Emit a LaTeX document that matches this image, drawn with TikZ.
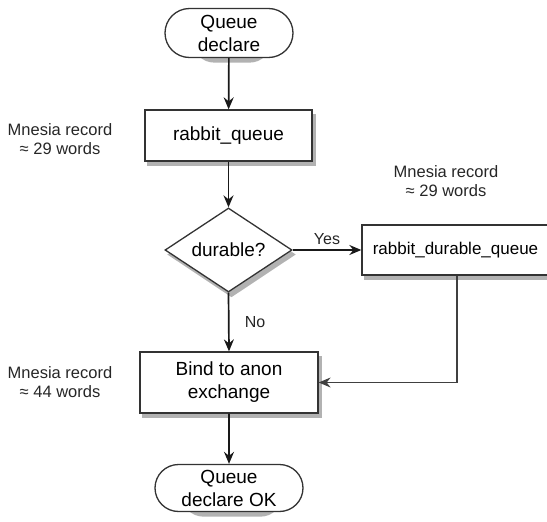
\documentclass[tikz,border=0pt]{standalone}
\usepackage{fontspec}
\setmainfont{Liberation Sans}
\usetikzlibrary{shapes.geometric,shapes.misc,arrows.meta,backgrounds}
\tikzset{
  boxst/.style={draw=black!80,line width=1.3pt,fill=white,font=\fontsize{19}{23}\selectfont,align=center,inner sep=0pt},
  termst/.style={boxst,rounded rectangle},
  procst/.style={boxst,rectangle},
  decst/.style={boxst,diamond,shape aspect=1.51},
  sidest/.style={font=\fontsize{16.5}{19}\selectfont,align=center,text=black!85},
  lblst/.style={font=\fontsize{16}{18}\selectfont,text=black!85},
  conn/.style={line width=1.7pt,draw=black!90,-{Stealth[length=12pt,width=10pt,inset=4pt]}},
  thinconn/.style={line width=1.1pt,draw=black!75,-{Stealth[length=12pt,width=10pt,inset=4pt]}},
  shadowfill/.style={fill=gray!60}
}
\begin{document}
\begin{tikzpicture}[x=1pt,y=-1pt]
\useasboundingbox (0,0) rectangle (547,522);
\node[termst,minimum width=128pt,minimum height=49pt] (start) at (229,33) {Queue\\declare};
\node[procst,minimum width=167pt,minimum height=51pt] (rq) at (228.5,135.5) {rabbit\_queue};
\node[decst,minimum width=127pt,minimum height=84pt] (dur) at (228.5,250) {durable?};
\node[procst,minimum width=187pt,minimum height=50pt,font=\fontsize{17}{20}\selectfont] (rdq) at (455.5,250) {rabbit\_durable\_queue};
\node[procst,minimum width=178pt,minimum height=61pt] (bind) at (229,382.5) {Bind to anon\\exchange};
\node[termst,minimum width=148pt,minimum height=47pt] (ok) at (229,488) {Queue\\declare OK};
\begin{scope}[on background layer]
  \foreach \n in {rq,rdq,bind}{
    \fill[shadowfill] ([shift={(3pt,-4.5pt)}]\n.south west) rectangle ([shift={(3pt,-4.5pt)}]\n.north east);
  }
  \fill[shadowfill] ([shift={(3pt,-4.5pt)}]dur.north) -- ([shift={(3pt,-4.5pt)}]dur.east) -- ([shift={(3pt,-4.5pt)}]dur.south) -- ([shift={(3pt,-4.5pt)}]dur.west) -- cycle;
  \foreach \n in {start,ok}{
    \fill[shadowfill,rounded corners=22pt] ([shift={(3pt,-4.5pt)}]\n.south west) rectangle ([shift={(3pt,-4.5pt)}]\n.north east);
  }
\end{scope}
\node[sidest] (m1) at (60,139) {Mnesia record\\≈ 29 words};
\node[sidest] (m2) at (446,181) {Mnesia record\\≈ 29 words};
\node[sidest] (m3) at (60,382) {Mnesia record\\≈ 44 words};
\coordinate (corner) at (457,382.5);
\draw[conn] (start) -- (rq);
\draw[conn] (rq) -- (dur);
\draw[conn] (dur.east) -- node[lblst,above=1pt] (yes) {Yes} (rdq.west);
\draw[conn] (dur.south) -- node[lblst,right=12pt] (no) {No} (bind.north);
\draw[conn] (bind) -- (ok);
\draw[thinconn] (rdq.south -| corner) -- (corner) -- (bind.east);
\end{tikzpicture}
\end{document}
